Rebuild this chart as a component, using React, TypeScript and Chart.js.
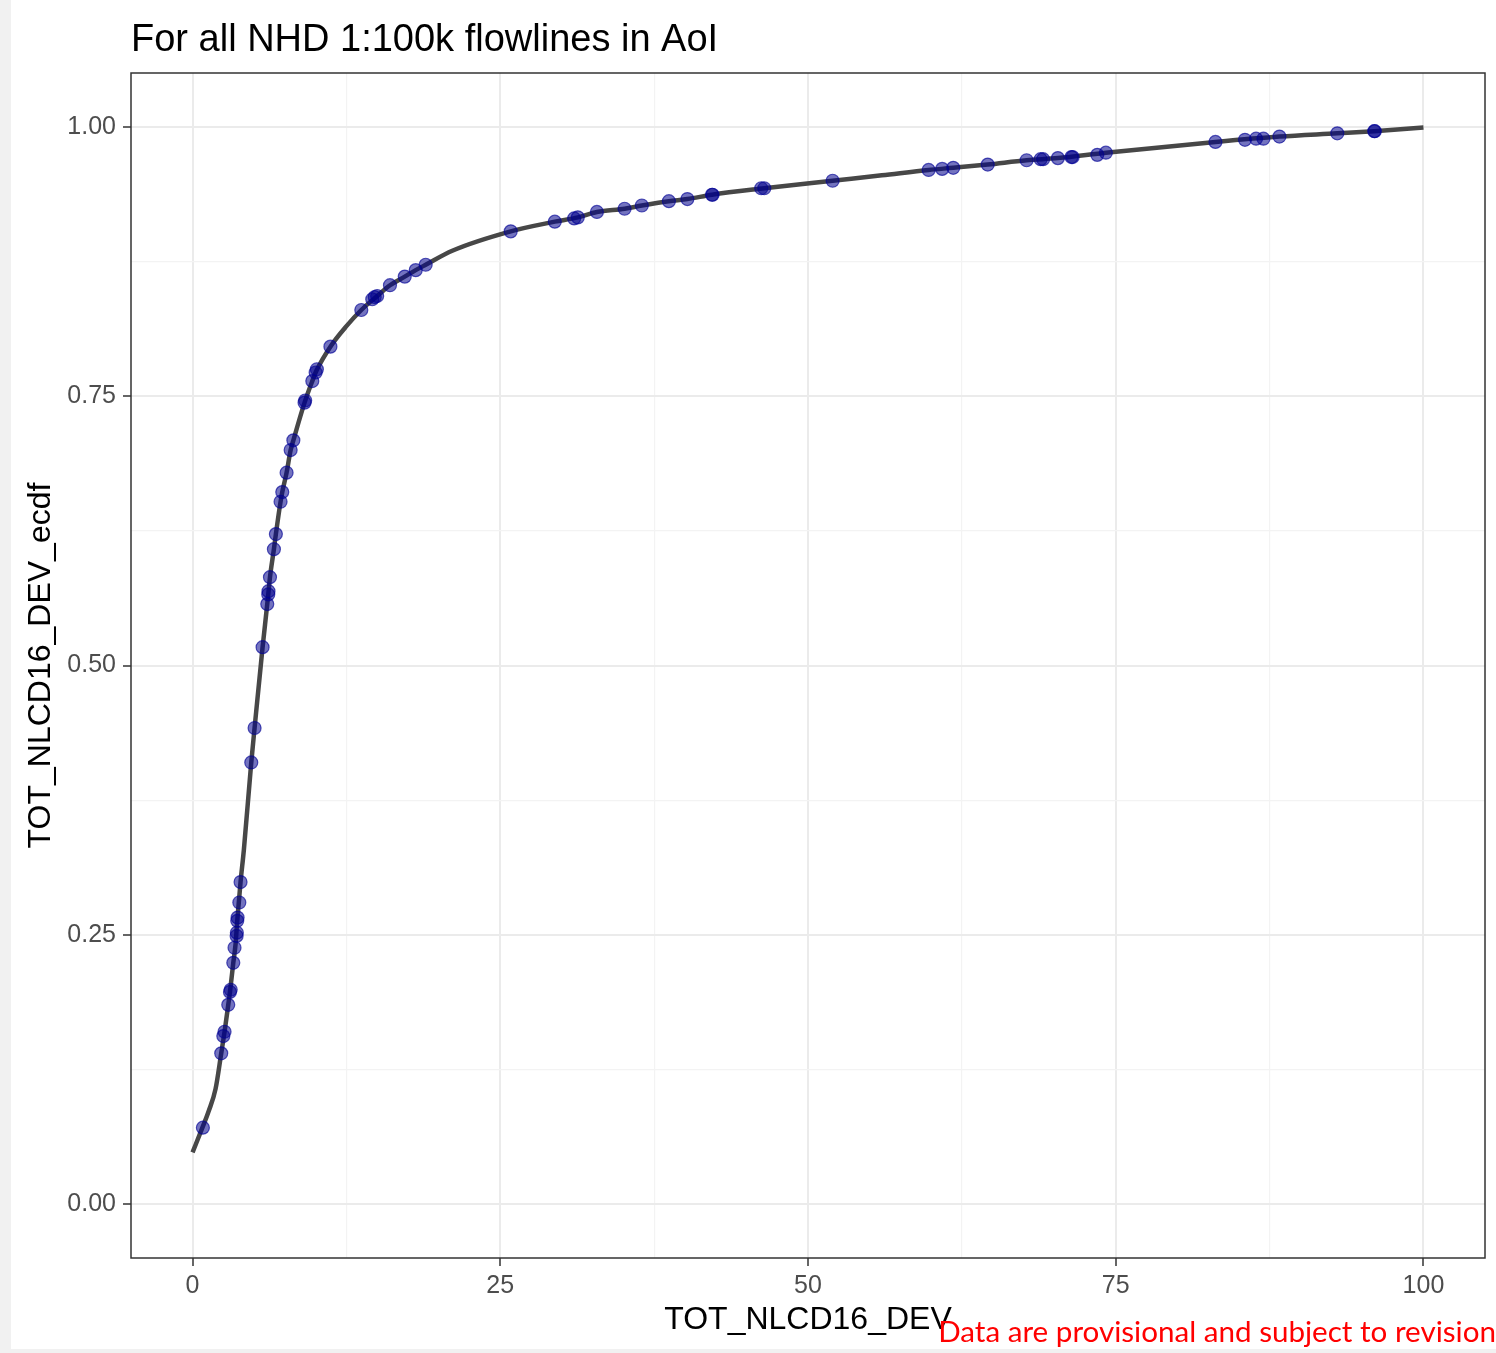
import React, { useEffect, useRef } from "react";
import { Chart, registerables } from "chart.js";

Chart.register(...registerables);

const TITLE = "For all NHD 1:100k flowlines in AoI";
const X_TITLE = "TOT_NLCD16_DEV";
const Y_TITLE = "TOT_NLCD16_DEV_ecdf";
const WATERMARK = "Data are provisional and subject to revision";

const xMajorTicks = [0, 25, 50, 75, 100];
const xMinorTicks = [12.5, 37.5, 62.5, 87.5];
const xTickLabels = ["0", "25", "50", "75", "100"];
const yMajorTicks = [0, 0.25, 0.5, 0.75, 1.0];
const yMinorTicks = [0.125, 0.375, 0.625, 0.875];
const yTickLabels = ["0.00", "0.25", "0.50", "0.75", "1.00"];

const curveX = [0, 0.8, 1.3, 1.87, 2.33, 2.6, 2.9, 3.04, 3.31, 3.5, 3.63, 3.9, 4.17, 4.77, 5.04, 5.69, 6.07, 6.15, 6.29, 6.61, 6.77, 7.15, 7.29, 7.64, 7.97, 8.19, 9.1, 9.73, 10.08, 11.2, 12.5, 13.71, 15.0, 16.04, 17.24, 18.13, 18.94, 21.1, 25.85, 29.43, 31.3, 32.85, 35.1, 36.5, 38.7, 40.2, 42.2, 46.45, 52.0, 56.0, 59.8, 61.8, 64.6, 67.76, 70.3, 74.2, 83.1, 88.3, 93.0, 96.0, 100];
const curveY = [0.048, 0.071, 0.086, 0.107, 0.14, 0.16, 0.185, 0.197, 0.224, 0.242, 0.263, 0.299, 0.329, 0.41, 0.442, 0.517, 0.557, 0.566, 0.582, 0.608, 0.622, 0.652, 0.661, 0.679, 0.7, 0.709, 0.744, 0.764, 0.774, 0.796, 0.815, 0.83, 0.843, 0.853, 0.861, 0.867, 0.872, 0.885, 0.903, 0.912, 0.916, 0.921, 0.924, 0.927, 0.931, 0.933, 0.937, 0.943, 0.95, 0.955, 0.96, 0.962, 0.965, 0.969, 0.971, 0.976, 0.986, 0.991, 0.994, 0.996, 0.9995];

const pointX = [0.84, 2.33, 2.5, 2.6, 2.9, 3.04, 3.1, 3.31, 3.41, 3.58, 3.6, 3.63, 3.66, 3.8, 3.9, 4.77, 5.04, 5.69, 6.07, 6.15, 6.17, 6.29, 6.61, 6.77, 7.15, 7.29, 7.64, 7.97, 8.19, 9.1, 9.15, 9.73, 10.0, 10.1, 11.2, 13.71, 14.6, 14.8, 15.0, 16.04, 17.24, 18.13, 18.94, 25.85, 29.43, 31.0, 31.3, 32.85, 35.1, 36.5, 38.7, 40.2, 42.2, 42.25, 46.2, 46.45, 52.0, 59.8, 60.9, 61.8, 64.6, 67.76, 68.9, 69.1, 70.3, 71.4, 71.5, 73.5, 74.2, 83.1, 85.5, 86.4, 87.0, 88.3, 93.0, 96.0, 96.05];
const pointY = [0.071, 0.14, 0.156, 0.16, 0.185, 0.197, 0.199, 0.224, 0.238, 0.249, 0.252, 0.263, 0.266, 0.28, 0.299, 0.41, 0.442, 0.517, 0.557, 0.566, 0.569, 0.582, 0.608, 0.622, 0.652, 0.661, 0.679, 0.7, 0.709, 0.744, 0.746, 0.764, 0.772, 0.775, 0.796, 0.83, 0.84, 0.842, 0.843, 0.853, 0.861, 0.867, 0.872, 0.903, 0.912, 0.915, 0.916, 0.921, 0.924, 0.927, 0.931, 0.933, 0.937, 0.937, 0.943, 0.943, 0.95, 0.96, 0.961, 0.962, 0.965, 0.969, 0.97, 0.97, 0.971, 0.972, 0.972, 0.974, 0.976, 0.986, 0.988, 0.989, 0.989, 0.991, 0.994, 0.996, 0.996];

const SANS = '"Liberation Sans", Arial, sans-serif';

function isMajor(list: number[], v: number) {
  return list.some((m) => Math.abs(m - v) < 1e-9);
}

const decorPlugin = {
  id: "decor",
  afterDraw(chart: any) {
    const { ctx, chartArea } = chart;
    ctx.save();
    ctx.strokeStyle = "#333333";
    ctx.lineWidth = 1.5;
    ctx.strokeRect(chartArea.left, chartArea.top, chartArea.right - chartArea.left, chartArea.bottom - chartArea.top);
    ctx.fillStyle = "#000000";
    ctx.font = `38px ${SANS}`;
    ctx.textAlign = "left";
    ctx.textBaseline = "alphabetic";
    ctx.fillText(TITLE, chartArea.left, 51);
    const base = 30;
    ctx.font = `${base}px Lato, sans-serif`;
    const w = ctx.measureText(WATERMARK).width;
    const size = (base * 558) / w;
    ctx.font = `${size}px Lato, sans-serif`;
    ctx.fillStyle = "#ff0000";
    ctx.textAlign = "right";
    ctx.fillText(WATERMARK, 1496, 1342);
    ctx.restore();
  },
};

export default function App() {
  const ref = useRef<HTMLCanvasElement | null>(null);

  useEffect(() => {
    if (!ref.current) return;
    const curve = curveX.map((x, i) => ({ x, y: curveY[i] }));
    const pts = pointX.map((x, i) => ({ x, y: pointY[i] }));
    const xTicks = [...xMajorTicks, ...xMinorTicks].sort((a, b) => a - b);
    const yTicks = [...yMajorTicks, ...yMinorTicks].sort((a, b) => a - b);

    const chart = new Chart(ref.current, {
      type: "scatter",
      data: {
        datasets: [
          {
            type: "line",
            data: curve,
            borderColor: "#474747",
            borderWidth: 4.5,
            pointRadius: 0,
            fill: false,
            cubicInterpolationMode: "monotone",
            order: 2,
          } as any,
          {
            type: "scatter",
            data: pts,
            pointRadius: 6.5,
            pointBackgroundColor: "rgba(0,0,139,0.55)",
            pointBorderColor: "rgba(0,0,150,0.65)",
            pointBorderWidth: 1.2,
            order: 1,
          } as any,
        ],
      },
      options: {
        responsive: false,
        animation: false,
        devicePixelRatio: 1,
        layout: { padding: { left: 0, right: 11, top: 73, bottom: 0 } },
        plugins: {
          legend: { display: false },
          tooltip: { enabled: false },
          title: { display: false },
        },
        scales: {
          x: {
            type: "linear",
            min: -5,
            max: 105,
            afterBuildTicks: (scale: any) => {
              scale.ticks = xTicks.map((v) => ({ value: v }));
            },
            afterFit: (scale: any) => {
              scale.height = 95;
            },
            ticks: {
              autoSkip: false,
              maxRotation: 0,
              padding: 5,
              color: "#4d4d4d",
              font: { family: SANS, size: 25 },
              callback: (v: any) => {
                const i = xMajorTicks.findIndex((m) => Math.abs(m - v) < 1e-9);
                return i >= 0 ? xTickLabels[i] : "";
              },
            },
            grid: {
              color: (c: any) => (isMajor(xMajorTicks, c.tick?.value) ? "#ebebeb" : "#f3f3f3"),
              lineWidth: (c: any) => (isMajor(xMajorTicks, c.tick?.value) ? 2 : 1.2),
              tickColor: (c: any) => (isMajor(xMajorTicks, c.tick?.value) ? "#333333" : "rgba(0,0,0,0)"),
              tickLength: 8,
              tickWidth: 1.5,
              drawTicks: true,
            },
            border: { display: false },
            title: {
              display: true,
              text: X_TITLE,
              color: "#000000",
              font: { family: SANS, size: 32 },
              padding: { top: 0, bottom: 14 },
            },
          },
          y: {
            type: "linear",
            min: -0.05,
            max: 1.05,
            afterBuildTicks: (scale: any) => {
              scale.ticks = yTicks.map((v) => ({ value: v }));
            },
            afterFit: (scale: any) => {
              scale.width = 131;
            },
            ticks: {
              autoSkip: false,
              padding: 7,
              color: "#4d4d4d",
              font: { family: SANS, size: 25 },
              callback: (v: any) => {
                const i = yMajorTicks.findIndex((m) => Math.abs(m - v) < 1e-9);
                return i >= 0 ? yTickLabels[i] : "";
              },
            },
            grid: {
              color: (c: any) => (isMajor(yMajorTicks, c.tick?.value) ? "#ebebeb" : "#f3f3f3"),
              lineWidth: (c: any) => (isMajor(yMajorTicks, c.tick?.value) ? 2 : 1.2),
              tickColor: (c: any) => (isMajor(yMajorTicks, c.tick?.value) ? "#333333" : "rgba(0,0,0,0)"),
              tickLength: 8,
              tickWidth: 1.5,
              drawTicks: true,
            },
            border: { display: false },
            title: {
              display: true,
              text: Y_TITLE,
              color: "#000000",
              font: { family: SANS, size: 32 },
              padding: { top: 22, bottom: 0 },
            },
          },
        },
      },
      plugins: [decorPlugin],
    } as any);
    return () => chart.destroy();
  }, []);

  return (
    <div style={{ position: "absolute", left: 0, top: 0, width: 1496, height: 1353, background: "#ffffff", overflow: "hidden" }}>
      <div style={{ position: "absolute", left: 0, top: 0, width: 11, height: 1353, background: "#f1f1f1" }} />
      <div style={{ position: "absolute", left: 0, top: 1349, width: 1496, height: 4, background: "#f1f1f1" }} />
      <canvas ref={ref} width={1496} height={1353} style={{ position: "absolute", left: 0, top: 0, display: "block" }} />
    </div>
  );
}
